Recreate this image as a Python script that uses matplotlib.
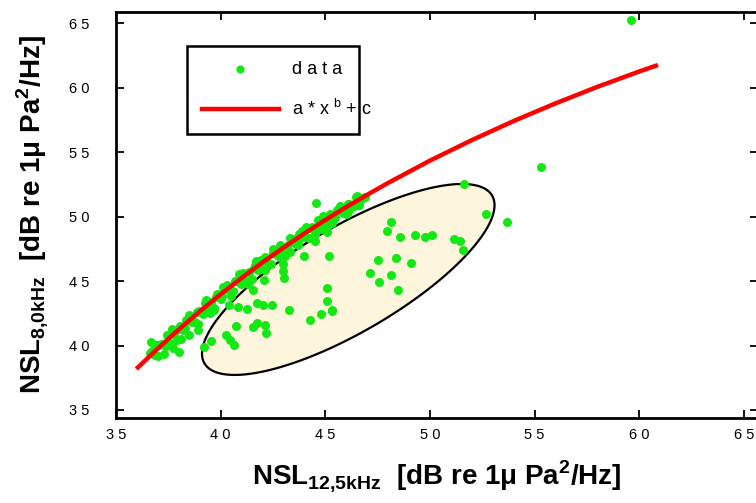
import numpy as np
import matplotlib
matplotlib.use("Agg")
import matplotlib.pyplot as plt

# fonts: narrow sans for ticks / legend, bold sans for axis labels
plt.rcParams['font.family'] = ['Liberation Sans Narrow', 'Liberation Sans', 'DejaVu Sans']
plt.rcParams['mathtext.fontset'] = 'custom'
plt.rcParams['mathtext.rm'] = 'Liberation Sans'
plt.rcParams['mathtext.bf'] = 'Liberation Sans:bold'

# measured points hugging the fit curve
band_x = [36.7, 36.85, 37.0, 37.15, 37.3, 37.45, 37.6, 37.75, 37.9, 38.05, 38.2, 38.35,
          38.5, 38.65, 38.8, 38.95, 39.1, 39.25, 39.4, 39.55, 39.7, 39.85, 40.0, 40.15,
          40.3, 40.45, 40.6, 40.75, 40.9, 41.05, 41.2, 41.35, 41.5, 41.65, 41.8, 41.95,
          42.1, 42.25, 42.4, 42.55, 42.7, 42.85, 43.0, 43.15, 43.3, 43.45, 43.6, 43.75,
          43.9, 44.05, 44.2, 44.35, 44.5, 44.65, 44.8, 44.95, 45.1, 45.25, 45.4, 45.55,
          45.7, 45.85, 46.0, 46.15, 46.3, 46.45, 46.6, 46.75, 46.9,
          36.78, 37.08, 37.38, 37.68, 37.98, 38.28, 38.58, 38.88, 39.18, 39.48, 39.78,
          40.08, 40.38, 40.68, 40.98, 41.28, 41.58, 41.88, 42.18, 42.48, 42.78, 43.08,
          43.38, 43.68, 43.98, 44.28, 44.58, 44.88, 45.18, 45.48, 45.78, 46.08, 46.38, 46.68,
          36.9, 37.3, 37.7, 38.1, 38.5, 38.9, 39.3, 39.7, 40.1, 40.5, 40.9, 41.3, 41.7,
          42.1, 42.5, 42.9, 43.3, 43.7, 44.1, 44.5, 44.9, 45.3, 45.7, 46.1, 46.5]
band_y = [39.61, 39.24, 39.22, 40.10, 40.02, 40.79, 40.21, 40.88, 40.45, 41.52, 41.18, 41.99,
          42.25, 41.86, 41.82, 42.67, 42.58, 43.33, 42.73, 43.38, 42.93, 43.98, 43.62, 44.41,
          44.66, 44.25, 44.19, 45.02, 44.91, 45.64, 45.03, 45.66, 45.19, 46.22, 45.85, 46.63,
          46.85, 46.43, 46.35, 47.17, 47.05, 47.77, 47.13, 47.75, 47.27, 48.28, 47.90, 48.66,
          48.87, 48.43, 48.34, 49.15, 49.01, 49.71, 49.07, 49.67, 49.18, 50.18, 49.78, 50.53,
          50.73, 50.28, 50.18, 50.97, 50.82, 51.51, 50.86, 51.45, 51.54,
          39.33, 40.04, 39.93, 40.02, 41.26, 41.39, 41.96, 42.62, 42.48, 42.53, 43.73,
          43.82, 44.36, 44.98, 44.80, 44.82, 45.98, 46.04, 46.54, 47.14, 46.94, 46.92,
          48.05, 48.08, 48.55, 49.12, 48.89, 49.30, 49.96, 49.96, 50.41, 50.95, 50.79, 51.28,
          40.07, 39.37, 41.26, 40.54, 42.40, 41.66, 43.50, 42.73, 44.55, 43.81, 45.56, 44.80, 46.53,
          45.85, 47.47, 46.77, 48.32, 47.76, 49.19, 48.61, 50.02, 49.53, 50.83, 50.32, 51.56]

# scattered points (mostly inside the ellipse) and outliers
scat_x = [55.32, 51.63, 52.70, 53.70, 48.13, 47.95, 48.57, 49.29, 49.75, 50.12, 51.17, 51.46,
          51.56, 47.50, 48.40, 49.11, 47.13, 48.13, 47.58, 48.49, 45.32, 44.54, 43.98, 45.16,
          44.52, 45.08, 42.97, 42.97, 43.05, 42.05, 41.54, 45.06, 45.06, 45.33, 44.79, 44.25,
          43.26, 42.45, 42.02, 41.73, 40.82, 41.27, 40.39, 40.74, 41.56, 41.73, 42.13, 42.18,
          40.28, 40.45, 40.65, 39.56, 39.21, 38.94, 38.49, 38.03, 37.74, 36.67, 36.63, 59.62]
scat_y = [53.86, 52.52, 50.19, 49.60, 49.60, 48.85, 48.41, 48.57, 48.41, 48.57, 48.26, 48.12,
          47.40, 46.65, 46.81, 46.37, 45.64, 45.49, 44.90, 44.33, 42.70, 51.07, 46.96, 46.96,
          48.10, 48.82, 46.29, 45.80, 45.21, 45.08, 44.30, 44.48, 43.47, 42.75, 42.44, 41.98,
          42.73, 43.14, 43.14, 43.32, 42.96, 42.85, 43.14, 41.53, 41.43, 41.72, 41.57, 40.95,
          40.81, 40.43, 40.06, 40.32, 39.91, 41.20, 40.81, 39.47, 39.78, 40.25, 39.40, 65.27]

# fitted curve a*x^b + c
fit_x = [36.05, 37.0, 38.0, 39.0, 40.0, 41.0, 42.0, 43.0, 44.0, 45.0, 46.0, 47.0, 48.0,
         50.0, 52.0, 54.0, 56.0, 58.0, 60.0, 60.8]
fit_y = [38.30, 39.77, 41.24, 42.64, 43.97, 45.23, 46.44, 47.58, 48.68, 49.73, 50.73, 51.68,
         52.60, 54.33, 55.92, 57.40, 58.77, 60.05, 61.24, 61.69]

# highlighted cluster (ellipse): centre in data units, semi axes in pixels, tilt in degrees
ell_center = (46.10, 45.12)
ell_axes_px = (166.5, 52.8)
ell_angle = 30.25

xticks = [35, 40, 45, 50, 55, 60, 65]
xtick_labels = ['3 5', '4 0', '4 5', '5 0', '5 5', '6 0', '6 5']
yticks = [35, 40, 45, 50, 55, 60, 65]
ytick_labels = ['3 5', '4 0', '4 5', '5 0', '5 5', '6 0', '6 5']

fig = plt.figure(figsize=(7.56, 5.03), dpi=100)
ax = fig.add_axes([0.1534, 0.169, 0.849, 0.807])
ax.set_xlim(35, 65.67)
ax.set_ylim(34.38, 65.85)

# ellipse built in pixel space then mapped back to data units
sx = ax.get_window_extent().width / (65.67 - 35)
sy = ax.get_window_extent().height / (65.85 - 34.38)
t = np.linspace(0, 2 * np.pi, 300)
th = np.radians(ell_angle)
a, b = ell_axes_px
ex = ell_center[0] + (a * np.cos(t) * np.cos(th) - b * np.sin(t) * np.sin(th)) / sx
ey = ell_center[1] + (a * np.cos(t) * np.sin(th) + b * np.sin(t) * np.cos(th)) / sy
ax.fill(ex, ey, facecolor='#fdf5dc', edgecolor='black', linewidth=1.6, zorder=1)

green = '#12e812'
ax.scatter(band_x + scat_x, band_y + scat_y, s=42, color=green, linewidths=0,
           zorder=2, clip_on=False, label='d a t a')
ax.plot(fit_x, fit_y, color='#ff0000', linewidth=3.2, zorder=3,
        label=r'a * x $^{\rm b}$ + c')

ax.set_xticks(xticks)
ax.set_xticklabels(xtick_labels, fontsize=10.5)
ax.set_yticks(yticks)
ax.set_yticklabels(ytick_labels, fontsize=10.5)
ax.tick_params(direction='in', length=6, width=1.3, top=True, right=True)
ax.tick_params(axis='y', pad=19)
ax.tick_params(axis='x', pad=7)
for sp in ax.spines.values():
    sp.set_linewidth(2)

ax.set_xlabel(r'NSL$_{\mathbf{12{,}5kHz}}$  [dB re 1μ Pa$^{\mathbf{2}}$/Hz]',
              fontsize=20, fontweight='bold', family='Liberation Sans', labelpad=12)
ax.set_ylabel(r'NSL$_{\mathbf{8{,}0kHz}}$  [dB re 1μ Pa$^{\mathbf{2}}$/Hz]',
              fontsize=20, fontweight='bold', family='Liberation Sans', labelpad=14)

leg = ax.legend(loc='upper left', bbox_to_anchor=(0.111, 0.702, 0.267, 0.214), mode='expand',
                borderaxespad=0, fancybox=False, framealpha=1, edgecolor='black',
                fontsize=13, handlelength=4.3, handletextpad=0.7, labelspacing=1.2,
                borderpad=0.8, markerscale=0.9)
leg.get_frame().set_linewidth(1.8)

fig.savefig('out.png', dpi=100)
